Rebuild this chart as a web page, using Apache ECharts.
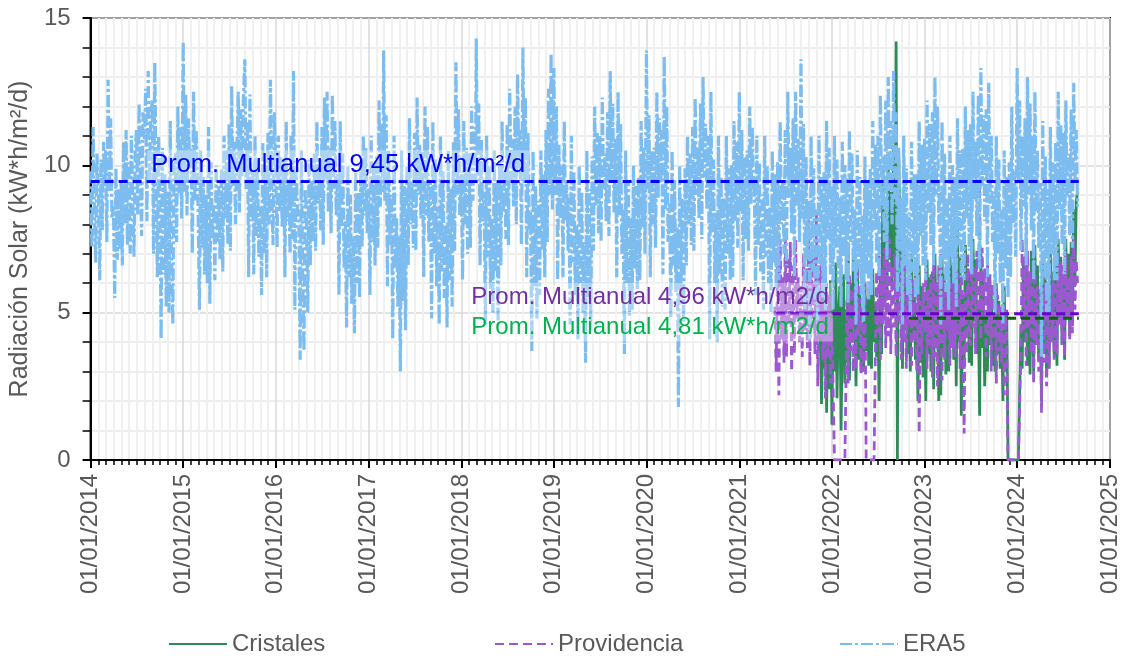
<!DOCTYPE html>
<html>
<head>
<meta charset="utf-8">
<script src="https://cdn.jsdelivr.net/npm/echarts@6/dist/echarts.min.js"></script>
<style>
  html, body { margin: 0; padding: 0; background: #ffffff; }
  #chart { width: 1125px; height: 656px; }
</style>
</head>
<body>
<div id="chart"></div>
<script>
// Daily solar radiation (kW*h/m2/d), one reading on days 1, 6, 11, 16, 21 and 26 of every month.
const SAMPLE_DAYS = [1, 6, 11, 16, 21, 26];
const seriesNames = ['Cristales', 'Providencia', 'ERA5'];

// ERA5 reanalysis, from January 2014
const era5Start = [2014, 1];
const era5 = [
  // 2014
  9.8, 7.2, 11.3, 8.5, 6.7, 10.4,  8.9, 6.1, 10.2, 7.8, 10.8, 9.3,  10.5, 7.4, 12.9, 9.1, 11.6, 8.2,
  8.6, 5.5, 9.9, 6.8, 9.2, 7.1,  9.5, 6.6, 10.8, 8.0, 11.2, 7.3,  10.1, 7.0, 11.0, 8.8, 6.9, 10.5,
  11.2, 8.3, 12.1, 9.7, 7.6, 11.8,  10.9, 12.6, 8.1, 13.2, 9.4, 11.7,  12.2, 7.0, 13.5, 9.6, 6.2, 11.0,
  8.8, 4.1, 10.6, 6.3, 9.7, 5.2,  9.1, 5.0, 11.5, 6.9, 4.6, 10.2,  10.4, 7.4, 12.0, 9.0, 11.3, 8.2,
  // 2015
  14.2, 9.1, 12.4, 8.3, 11.6, 10.2,  10.6, 7.0, 12.5, 8.8, 11.2, 9.5,  8.4, 5.1, 10.5, 7.2, 9.6, 6.3,
  9.0, 6.0, 11.3, 5.3, 10.1, 7.5,  8.7, 6.1, 10.0, 7.4, 9.3, 6.8,  9.9, 6.4, 11.0, 8.2, 10.5, 7.3,
  11.4, 7.1, 12.7, 9.3, 10.8, 8.0,  10.7, 12.5, 8.4, 11.9, 9.6, 12.2,  13.6, 9.2, 11.5, 6.2, 12.4, 8.1,
  9.8, 6.3, 11.0, 7.6, 10.2, 6.9,  8.6, 5.6, 10.8, 7.0, 9.9, 6.2,  11.1, 8.0, 12.9, 9.4, 7.3, 11.8,
  // 2016
  9.6, 7.2, 11.0, 8.4, 10.3, 7.9,  10.1, 6.2, 11.5, 8.1, 9.4, 7.0,  11.0, 7.5, 13.2, 5.1, 9.8, 8.6,
  7.9, 3.4, 10.5, 6.1, 3.7, 9.2,  8.3, 5.0, 10.2, 6.6, 9.5, 7.4,  10.4, 7.1, 11.5, 8.7, 9.9, 7.8,
  11.3, 7.3, 12.3, 9.5, 12.5, 8.4,  10.6, 7.7, 12.4, 9.2, 11.5, 8.3,  9.7, 5.6, 11.5, 7.9, 10.4, 6.5,
  8.1, 4.5, 10.0, 6.2, 9.0, 5.3,  7.6, 4.3, 9.8, 6.0, 9.1, 5.5,  9.9, 7.2, 11.0, 8.3, 10.6, 7.7,
  // 2017
  9.2, 5.6, 11.0, 7.4, 10.1, 6.6,  10.3, 7.2, 12.2, 8.6, 11.4, 9.1,  13.9, 8.8, 11.7, 5.9, 10.5, 7.3,
  9.0, 4.1, 11.0, 6.5, 8.2, 5.2,  7.6, 3.0, 10.5, 5.4, 9.3, 4.4,  10.0, 6.6, 11.6, 8.0, 9.4, 7.2,
  11.1, 7.1, 12.3, 9.0, 10.7, 8.2,  10.5, 6.2, 12.0, 8.3, 11.3, 7.4,  9.4, 4.8, 11.5, 7.0, 10.2, 5.9,
  8.6, 4.6, 11.0, 6.4, 9.8, 5.5,  8.0, 4.5, 10.5, 6.1, 9.2, 5.2,  10.8, 7.1, 13.5, 9.0, 11.9, 8.3,
  // 2018
  9.7, 6.1, 11.5, 8.0, 10.6, 7.0,  10.4, 7.2, 12.0, 8.8, 11.3, 9.5,  14.3, 9.6, 12.1, 6.6, 10.9, 8.1,
  9.1, 4.6, 11.0, 6.9, 10.0, 5.8,  8.2, 5.0, 10.5, 6.4, 9.4, 4.6,  10.2, 6.6, 11.5, 8.4, 9.8, 7.5,
  11.4, 7.3, 12.6, 9.5, 10.9, 8.6,  12.0, 8.0, 13.1, 9.9, 11.2, 7.3,  14.0, 9.4, 12.3, 6.2, 11.1, 7.8,
  8.4, 3.7, 10.5, 5.9, 9.3, 4.8,  8.8, 5.6, 10.5, 7.1, 9.7, 6.2,  11.2, 7.4, 12.6, 9.0, 13.8, 8.5,
  // 2019
  13.3, 9.0, 12.0, 6.1, 10.7, 8.2,  10.0, 6.2, 11.5, 8.1, 9.4, 7.1,  8.9, 4.6, 11.0, 6.7, 9.8, 5.6,
  8.0, 4.1, 10.0, 6.0, 9.1, 5.0,  7.4, 3.3, 10.5, 5.5, 9.2, 4.4,  10.3, 7.1, 12.0, 8.6, 11.1, 7.7,
  11.0, 7.4, 12.3, 9.2, 10.4, 8.1,  11.8, 7.6, 13.2, 9.5, 12.1, 8.4,  10.9, 6.2, 12.5, 8.3, 11.4, 7.0,
  8.5, 3.6, 10.5, 6.0, 9.5, 4.9,  8.2, 5.1, 10.0, 6.5, 9.3, 5.8,  9.6, 6.1, 11.5, 7.9, 10.6, 7.0,
  // 2020
  13.9, 9.2, 11.7, 6.2, 10.5, 8.0,  10.6, 7.2, 12.5, 8.9, 11.6, 9.4,  11.2, 6.3, 13.7, 8.5, 12.0, 7.4,
  8.7, 4.8, 10.5, 6.6, 9.5, 5.7,  7.9, 1.8, 10.0, 5.8, 8.9, 4.7,  9.9, 6.6, 11.0, 8.0, 10.4, 7.3,
  11.3, 7.1, 12.3, 9.0, 10.6, 8.2,  12.1, 7.5, 13.0, 9.6, 11.4, 8.5,  11.0, 4.1, 12.5, 7.7, 10.2, 6.0,
  8.4, 4.0, 11.0, 6.3, 9.6, 5.2,  8.9, 5.1, 11.0, 7.0, 9.9, 6.1,  10.0, 6.2, 11.5, 8.1, 10.8, 7.2,
  // 2021
  12.5, 8.4, 11.2, 6.1, 10.3, 7.5,  10.5, 7.1, 12.0, 8.7, 11.3, 9.2,  9.4, 5.6, 11.0, 7.3, 10.1, 6.4,
  9.0, 5.1, 11.0, 6.9, 10.0, 6.0,  8.6, 5.0, 10.5, 6.7, 9.7, 5.8,  10.1, 6.1, 11.5, 8.0, 9.5, 7.0,
  11.2, 6.6, 12.5, 8.9, 10.6, 7.7,  11.6, 6.2, 12.5, 8.6, 10.9, 7.4,  13.6, 8.2, 11.4, 5.1, 10.3, 6.8,
  8.8, 4.1, 11.0, 6.4, 9.9, 5.3,  8.5, 4.6, 11.0, 6.6, 9.6, 5.5,  9.8, 5.1, 11.5, 7.5, 10.6, 6.3,
  // 2022
  9.3, 5.1, 11.0, 7.2, 10.2, 6.0,  8.9, 5.2, 10.8, 6.9, 10.0, 6.1,  9.6, 5.3, 11.2, 7.4, 10.4, 6.4,
  8.5, 4.6, 10.5, 6.5, 9.6, 5.6,  8.3, 4.7, 10.3, 6.3, 9.4, 5.4,  9.9, 5.6, 11.5, 7.8, 10.7, 6.7,
  11.0, 6.2, 12.4, 8.6, 10.3, 7.4,  12.2, 6.8, 13.0, 9.1, 11.5, 8.0,  13.2, 8.7, 11.8, 5.7, 10.6, 7.1,
  8.9, 4.6, 11.0, 6.6, 9.9, 5.6,  8.4, 4.8, 10.8, 6.4, 9.7, 5.5,  9.7, 5.6, 11.5, 7.6, 10.7, 6.6,
  // 2023
  10.9, 6.1, 12.2, 8.4, 11.4, 7.3,  11.8, 6.6, 13.0, 9.0, 12.0, 8.0,  9.2, 4.6, 11.5, 6.8, 10.4, 5.7,
  8.9, 5.1, 11.0, 6.9, 10.0, 6.0,  9.6, 5.2, 11.6, 7.3, 10.5, 6.2,  10.6, 6.1, 12.0, 8.2, 11.2, 7.1,
  11.4, 6.3, 12.5, 8.8, 10.8, 7.6,  12.4, 6.5, 13.3, 9.3, 11.7, 8.1,  11.9, 6.2, 12.8, 8.7, 11.0, 7.4,
  9.1, 5.0, 11.0, 7.0, 10.2, 6.0,  8.5, 4.6, 10.5, 6.5, 9.6, 5.5,  10.1, 6.2, 12.0, 8.0, 9.8, 6.9,
  // 2024
  13.3, 9.5, 12.2, 7.1, 11.0, 8.6,  11.6, 6.6, 13.0, 9.0, 12.1, 7.8,  11.0, 6.1, 12.5, 8.4, 10.5, 7.2,
  9.4, 3.5, 11.5, 6.2, 10.3, 5.0,  9.2, 5.0, 11.3, 7.0, 10.1, 6.1,  10.8, 6.1, 12.5, 8.5, 11.4, 7.3,
  11.1, 6.3, 12.2, 8.9, 10.4, 7.6,  11.9, 7.2, 12.8, 9.4, 11.2, 8.6
];

// Cristales station, from November 2021
const cristalesStart = [2021, 11];
const cristales = [
  null, null, null, 4.2, 1.9, 5.8,  3.1, 6.4, 1.6, 5.2, 2.4, 6.1,
  // 2022
  1.2, 5.6, 3.0, 6.7, 2.1, 4.8,  5.9, 1.0, 4.4, 6.3, 2.6, 5.1,  3.3, 7.2, 2.7, 6.0, 4.1, 6.8,
  5.2, 2.5, 6.8, 3.4, 5.9, 3.0,  4.6, 3.0, 6.0, 3.7, 5.5, 3.2,  5.8, 3.1, 6.5, 4.0, 5.3, 3.5,
  4.9, 2.0, 6.5, 3.6, 10.0, 5.2,  8.4, 5.5, 10.2, 6.8, 9.1, 5.9,  10.7, 6.3, 14.2, 0.0, 10.5, 7.7,
  6.9, 3.1, 8.0, 4.4, 6.2, 3.6,  5.7, 3.0, 7.0, 4.2, 6.1, 3.4,  4.8, 2.0, 6.6, 3.3, 5.9, 2.8,
  // 2023
  5.5, 2.0, 6.8, 3.6, 6.2, 3.0,  6.4, 2.4, 7.0, 4.1, 5.7, 2.0,  4.9, 2.2, 6.9, 3.5, 6.3, 2.9,
  5.8, 3.0, 7.5, 4.2, 6.6, 3.4,  6.1, 2.5, 7.8, 4.0, 6.9, 1.5,  5.6, 3.1, 7.3, 4.4, 6.5, 3.3,
  6.4, 3.2, 7.5, 4.7, 6.8, 3.6,  5.2, 1.5, 7.0, 3.8, 6.1, 2.5,  5.0, 3.0, 6.2, 3.9, 5.8, 3.2,
  4.7, 3.0, 6.0, 3.6, 5.4, 3.1,  4.4, 2.0, 5.9, 3.2, 5.1, 0.0,  0.0, 0.0, 0.0, 0.0, 0.0, 0.0,
  // 2024
  0.0, 0.0, 0.0, 4.6, 3.1, 6.9,  4.0, 7.5, 3.2, 6.4, 2.9, 7.1,  5.5, 3.0, 7.3, 4.1, 6.6, 3.4,
  5.8, 2.0, 7.0, 3.6, 6.2, 2.8,  6.0, 3.1, 7.0, 4.3, 6.4, 3.5,  6.7, 3.2, 7.5, 4.8, 6.9, 3.9,
  6.2, 3.4, 7.5, 5.0, 7.0, 4.2,  7.4, 4.6, 8.5, 6.1, 8.8, 9.1
];

// Providencia station, from May 2021
const providenciaStart = [2021, 5];
const providencia = [
  null, null, null, null, 5.2, 3.0,  6.8, 2.2, 7.5, 4.1, 6.2, 3.3,  7.8, 3.5, 6.9, 4.6, 7.4, 3.0,
  6.6, 3.6, 7.5, 4.8, 6.2, 4.0,  5.9, 3.5, 7.0, 4.4, 6.5, 3.8,  8.2, 3.2, 6.8, 4.5, 7.3, 3.6,
  8.4, 2.5, 6.6, 4.1, 7.2, 3.4,  5.4, 2.1, 6.0, 3.5, 5.6, 2.6,
  // 2022
  4.8, 2.3, 0.0, 0.0, 0.0, 0.0,  0.0, 0.0, 0.0, 0.0, 0.0, 3.1,  5.4, 2.6, 6.3, 3.7, 5.8, 3.0,
  5.9, 3.1, 6.5, 4.2, 5.5, 2.9,  5.2, 3.0, 6.1, 0.0, 0.0, 0.0,  0.0, 0.0, 0.0, 0.0, 3.5, 6.4,
  4.3, 7.0, 3.4, 6.5, 4.6, 7.2,  3.8, 6.8, 4.2, 7.5, 3.6, 6.6,  4.5, 7.0, 3.5, 6.3, 4.7, 6.9,
  3.4, 6.5, 4.0, 7.0, 3.1, 5.9,  4.6, 6.8, 3.2, 6.1, 4.0, 6.6,  3.0, 6.2, 0.9, 5.4, 3.6, 6.0,
  // 2023
  4.3, 6.5, 3.1, 5.8, 3.9, 6.3,  2.8, 6.9, 3.5, 6.1, 2.5, 6.6,  3.9, 7.0, 2.7, 6.2, 3.4, 5.7,
  4.4, 6.5, 3.2, 6.0, 3.8, 6.4,  3.5, 7.0, 4.2, 6.3, 3.1, 6.8,  4.6, 0.9, 5.7, 3.6, 7.0, 4.2,
  3.9, 7.5, 4.5, 6.6, 3.6, 7.1,  4.8, 9.3, 4.1, 7.2, 5.0, 6.5,  3.5, 6.9, 4.2, 6.3, 3.0, 6.0,
  4.1, 6.0, 2.6, 5.6, 3.7, 5.2,  3.3, 5.8, 2.2, 5.1, 4.0, 0.0,  0.0, 0.0, 0.0, 0.0, 0.0, 0.0,
  // 2024
  0.0, 0.0, 0.0, 3.8, 7.5, 4.4,  6.9, 3.2, 7.1, 4.5, 6.4, 3.6,  6.2, 2.6, 6.6, 3.9, 5.9, 3.0,
  5.7, 1.6, 6.4, 3.3, 6.0, 2.5,  5.5, 3.1, 6.5, 4.0, 6.1, 3.4,  6.3, 3.6, 7.0, 4.6, 6.7, 3.9,
  6.6, 3.5, 7.0, 4.8, 6.2, 4.1,  6.9, 4.3, 7.5, 5.1, 6.8, 6.0
];

// Multi-year means and the periods they cover
const era5Mean = 9.45;
const providenciaMean = 4.96;
const cristalesMean = 4.81;
const era5MeanSpan = ['2014-01-01', '2024-08-31'];
const providenciaMeanSpan = ['2021-05-26', '2024-08-31'];
const cristalesMeanSpan = ['2022-11-01', '2024-08-31'];

// Annotation texts, their anchors (date, value), colours and font sizes
const meanLabels = [
  'Prom. Multianual 9,45 kW*h/m\u00b2/d',
  'Prom. Multianual 4,96 kW*h/m2/d',
  'Prom. Multianual 4,81 kW*h/m2/d'
];
const meanLabelAnchors = [
  ['2014-08-12', 10.0],
  ['2018-01-25', 5.53],
  ['2018-01-25', 4.5]
];
const meanLabelColors = ['#0000ff', '#7030a0', '#00b050'];
const meanLabelSizes = [25.5, 24, 24];

const yAxisTitle = 'Radiación Solar (kW*h/m\u00b2/d)';
const axisRange = ['2014-01-01', '2025-01-01'];

function parseDay(s) {
  const p = s.split('-').map(Number);
  return new Date(p[0], p[1] - 1, p[2]).getTime();
}

function toPoints(start, values) {
  return values.map(function (v, i) {
    const month = start[1] - 1 + Math.floor(i / SAMPLE_DAYS.length);
    const t = new Date(start[0], month, SAMPLE_DAYS[i % SAMPLE_DAYS.length]).getTime();
    return [t, v];
  });
}

function meanPoints(span, value) {
  return [[parseDay(span[0]), value], [parseDay(span[1]), value]];
}

function pad(n) { return n < 10 ? '0' + n : '' + n; }

const FONT = 'Liberation Sans, Arial, sans-serif';
const GREY = '#595959';

const chart = echarts.init(document.getElementById('chart'), null, { renderer: 'canvas' });

const legendBase = {
  orient: 'horizontal',
  top: 627,
  itemWidth: 58,
  itemHeight: 14,
  itemGap: 10,
  itemStyle: { opacity: 0 },
  textStyle: { color: GREY, fontSize: 24, fontFamily: FONT }
};

chart.setOption({
  animation: false,
  backgroundColor: '#ffffff',
  grid: {
    left: 90, right: 15, top: 18, bottom: 196,
    show: true, borderColor: '#000000', borderWidth: 2, backgroundColor: 'transparent'
  },
  legend: [
    Object.assign({ left: 163, data: [seriesNames[0]] }, legendBase),
    Object.assign({ left: 489, data: [seriesNames[1]] }, legendBase),
    Object.assign({ left: 834, data: [seriesNames[2]] }, legendBase)
  ],
  xAxis: {
    type: 'time',
    min: parseDay(axisRange[0]),
    max: parseDay(axisRange[1]),
    minInterval: 365 * 86400000,
    maxInterval: 366 * 86400000,
    splitNumber: 11,
    axisLine: { show: true, onZero: false, lineStyle: { color: '#000000', width: 2 } },
    axisTick: { show: true, inside: false, length: 8, lineStyle: { color: '#000000', width: 2 } },
    minorTick: { show: true, splitNumber: 12, length: 5, lineStyle: { color: '#000000', width: 1.5 } },
    splitLine: { show: true, lineStyle: { color: '#d9d9d9', width: 1.5 } },
    minorSplitLine: { show: true, lineStyle: { color: '#f0f0f0', width: 2 } },
    axisLabel: {
      rotate: 90,
      margin: 14,
      color: GREY,
      fontSize: 24,
      fontFamily: FONT,
      hideOverlap: false,
      showMinLabel: true,
      showMaxLabel: true,
      formatter: function (val) {
        const d = new Date(val);
        return pad(d.getDate()) + '/' + pad(d.getMonth() + 1) + '/' + d.getFullYear();
      }
    }
  },
  yAxis: {
    type: 'value',
    min: 0, max: 15, interval: 5,
    name: yAxisTitle,
    nameLocation: 'middle',
    nameGap: 56,
    nameTextStyle: { color: GREY, fontSize: 25, fontFamily: FONT },
    axisLine: { show: true, lineStyle: { color: '#000000', width: 2 } },
    axisTick: { show: true, inside: false, length: 8, lineStyle: { color: '#000000', width: 2 } },
    minorTick: { show: true, splitNumber: 5, length: 8, lineStyle: { color: '#000000', width: 1.5 } },
    splitLine: { show: true, lineStyle: { color: '#d9d9d9', width: 1.5 } },
    minorSplitLine: { show: true, lineStyle: { color: '#eeeeee', width: 2 } },
    axisLabel: { margin: 20, color: GREY, fontSize: 24, fontFamily: FONT }
  },
  series: [
    {
      name: seriesNames[0],
      type: 'line',
      data: toPoints(cristalesStart, cristales),
      symbol: 'none',
      lineStyle: { color: '#2e8b57', width: 2.8, type: 'solid' },
      itemStyle: { color: '#2e8b57' },
      z: 2
    },
    {
      name: seriesNames[1],
      type: 'line',
      data: toPoints(providenciaStart, providencia),
      symbol: 'none',
      lineStyle: { color: '#9b59d0', width: 2.8, type: [9, 5] },
      itemStyle: { color: '#9b59d0' },
      z: 3
    },
    {
      name: seriesNames[2],
      type: 'line',
      data: toPoints(era5Start, era5),
      symbol: 'none',
      lineStyle: { color: '#7dbcef', width: 3.2, type: [12, 3, 3, 3] },
      itemStyle: { color: '#7dbcef' },
      z: 4
    },
    {
      name: 'mean-era5',
      type: 'line',
      data: meanPoints(era5MeanSpan, era5Mean),
      symbol: 'none', silent: true,
      lineStyle: { color: '#0000ff', width: 3, type: [9, 5] },
      z: 5
    },
    {
      name: 'mean-providencia',
      type: 'line',
      data: meanPoints(providenciaMeanSpan, providenciaMean),
      symbol: 'none', silent: true,
      lineStyle: { color: '#6600cc', width: 3, type: [9, 5] },
      z: 5
    },
    {
      name: 'mean-cristales',
      type: 'line',
      data: meanPoints(cristalesMeanSpan, cristalesMean),
      symbol: 'none', silent: true,
      lineStyle: { color: '#006400', width: 3, type: [9, 5] },
      z: 5
    },
    {
      name: 'mean-labels',
      type: 'scatter',
      silent: true,
      symbolSize: 0,
      itemStyle: { opacity: 1 },
      z: 6,
      data: meanLabels.map(function (txt, i) {
        return {
          value: [parseDay(meanLabelAnchors[i][0]), meanLabelAnchors[i][1]],
          label: {
            show: true,
            position: 'right',
            distance: 0,
            formatter: txt,
            color: meanLabelColors[i],
            opacity: 1,
            fontSize: meanLabelSizes[i],
            fontFamily: FONT,
            backgroundColor: 'rgba(255,255,255,0.35)',
            padding: [2, 4]
          }
        };
      })
    }
  ]
});
</script>
</body>
</html>
